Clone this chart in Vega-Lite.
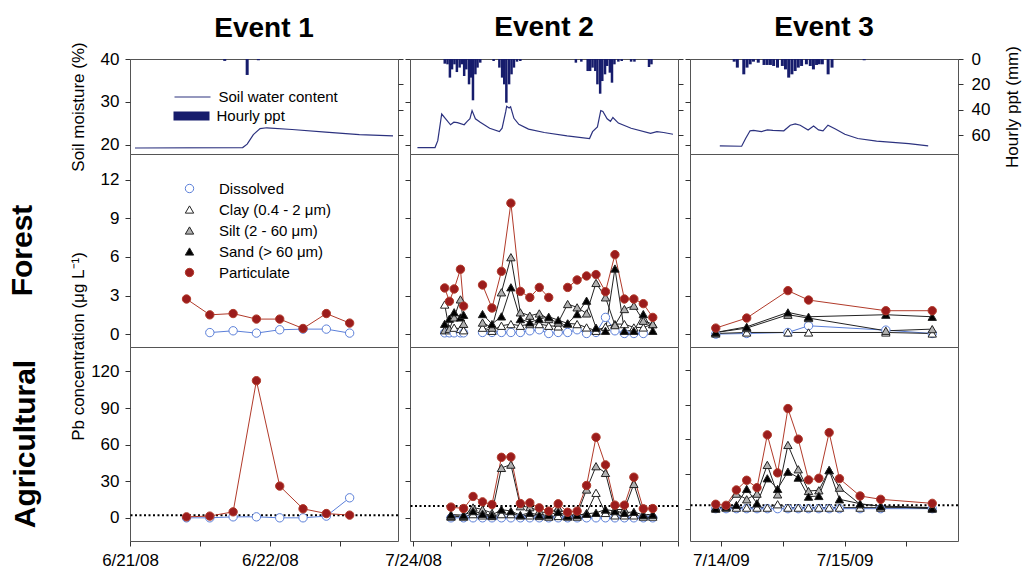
{
"$schema": "https://vega.github.io/schema/vega-lite/v6.json",
"padding": {"left": 7, "top": 13, "right": 2, "bottom": 0},
"background": "white",
"columns": 3,
"spacing": {"row": 0, "column": 12},
"bounds": "flush",
"align": "each",
"resolve": {"scale": {"stroke": "independent", "fill": "independent", "shape": "independent"}, "legend": {"stroke": "independent", "fill": "independent", "shape": "independent"}},
"datasets": {
"thr": [{"ev":1,"thr":2.2},{"ev":2,"thr":9.6},{"ev":3,"thr":3}],
"sm": [
{"ev":1,"t":"2008-06-21T00:00","sm":19.3},{"ev":1,"t":"2008-06-21T19:12","sm":19.4},{"ev":1,"t":"2008-06-21T20:00","sm":20.2},{"ev":1,"t":"2008-06-21T21:06","sm":22.4},{"ev":1,"t":"2008-06-21T22:18","sm":23.8},{"ev":1,"t":"2008-06-21T23:30","sm":24.0},{"ev":1,"t":"2008-06-22T04:00","sm":23.6},{"ev":1,"t":"2008-06-22T10:00","sm":23.0},{"ev":1,"t":"2008-06-22T16:00","sm":22.4},{"ev":1,"t":"2008-06-22T22:00","sm":22.1},
{"ev":2,"t":"2008-07-23T23:48","sm":19.4},{"ev":2,"t":"2008-07-24T05:36","sm":19.4},{"ev":2,"t":"2008-07-24T06:30","sm":21.0},{"ev":2,"t":"2008-07-24T07:48","sm":27.2},{"ev":2,"t":"2008-07-24T10:42","sm":24.7},{"ev":2,"t":"2008-07-24T11:48","sm":25.3},{"ev":2,"t":"2008-07-24T13:00","sm":25.2},{"ev":2,"t":"2008-07-24T15:12","sm":24.7},{"ev":2,"t":"2008-07-24T16:12","sm":25.5},{"ev":2,"t":"2008-07-24T17:06","sm":26.1},{"ev":2,"t":"2008-07-24T17:48","sm":28.0},{"ev":2,"t":"2008-07-24T18:54","sm":26.1},{"ev":2,"t":"2008-07-24T20:30","sm":25.3},{"ev":2,"t":"2008-07-24T23:36","sm":23.9},{"ev":2,"t":"2008-07-25T02:48","sm":23.1},{"ev":2,"t":"2008-07-25T03:42","sm":23.9},{"ev":2,"t":"2008-07-25T04:54","sm":27.8},{"ev":2,"t":"2008-07-25T05:12","sm":29.0},{"ev":2,"t":"2008-07-25T06:00","sm":28.6},{"ev":2,"t":"2008-07-25T06:30","sm":28.9},{"ev":2,"t":"2008-07-25T07:36","sm":26.2},{"ev":2,"t":"2008-07-25T09:12","sm":24.8},{"ev":2,"t":"2008-07-25T12:24","sm":23.7},{"ev":2,"t":"2008-07-25T17:36","sm":22.9},{"ev":2,"t":"2008-07-26T01:06","sm":22.1},{"ev":2,"t":"2008-07-26T08:30","sm":21.5},{"ev":2,"t":"2008-07-26T09:30","sm":23.1},{"ev":2,"t":"2008-07-26T11:06","sm":24.2},{"ev":2,"t":"2008-07-26T12:12","sm":28.0},{"ev":2,"t":"2008-07-26T12:54","sm":27.8},{"ev":2,"t":"2008-07-26T14:18","sm":26.1},{"ev":2,"t":"2008-07-26T15:24","sm":25.5},{"ev":2,"t":"2008-07-26T16:12","sm":26.4},{"ev":2,"t":"2008-07-26T18:00","sm":25.1},{"ev":2,"t":"2008-07-26T22:12","sm":23.9},{"ev":2,"t":"2008-07-27T04:36","sm":22.7},{"ev":2,"t":"2008-07-27T06:42","sm":23.1},{"ev":2,"t":"2008-07-27T08:54","sm":22.9},{"ev":2,"t":"2008-07-27T12:00","sm":22.5},
{"ev":3,"t":"2009-07-13T23:00","sm":19.8},{"ev":3,"t":"2009-07-14T03:24","sm":19.7},{"ev":3,"t":"2009-07-14T04:12","sm":21.5},{"ev":3,"t":"2009-07-14T05:06","sm":23.3},{"ev":3,"t":"2009-07-14T05:48","sm":23.4},{"ev":3,"t":"2009-07-14T07:24","sm":23.1},{"ev":3,"t":"2009-07-14T08:36","sm":23.5},{"ev":3,"t":"2009-07-14T09:42","sm":23.4},{"ev":3,"t":"2009-07-14T11:54","sm":23.3},{"ev":3,"t":"2009-07-14T13:12","sm":24.6},{"ev":3,"t":"2009-07-14T14:12","sm":24.9},{"ev":3,"t":"2009-07-14T15:12","sm":24.6},{"ev":3,"t":"2009-07-14T16:48","sm":23.5},{"ev":3,"t":"2009-07-14T17:54","sm":24.4},{"ev":3,"t":"2009-07-14T18:54","sm":23.5},{"ev":3,"t":"2009-07-14T19:48","sm":23.3},{"ev":3,"t":"2009-07-14T20:48","sm":24.6},{"ev":3,"t":"2009-07-14T22:18","sm":23.7},{"ev":3,"t":"2009-07-15T00:12","sm":22.5},{"ev":3,"t":"2009-07-15T02:48","sm":21.5},{"ev":3,"t":"2009-07-15T06:36","sm":20.9},{"ev":3,"t":"2009-07-15T13:06","sm":20.3},{"ev":3,"t":"2009-07-15T17:00","sm":19.8}
],
"ppt": [
{"ev":1,"t":"2008-06-21T16:00","p":1.5},{"ev":1,"t":"2008-06-21T20:00","p":12.6},{"ev":1,"t":"2008-06-21T22:00","p":1.0},
{"ev":2,"t":"2008-07-24T08:48","p":3.7},{"ev":2,"t":"2008-07-24T09:42","p":4.2},{"ev":2,"t":"2008-07-24T10:30","p":14.7},{"ev":2,"t":"2008-07-24T11:12","p":8.2},{"ev":2,"t":"2008-07-24T12:00","p":4.2},{"ev":2,"t":"2008-07-24T12:48","p":10.3},{"ev":2,"t":"2008-07-24T13:42","p":6.8},{"ev":2,"t":"2008-07-24T14:24","p":4.2},{"ev":2,"t":"2008-07-24T15:12","p":13.4},{"ev":2,"t":"2008-07-24T15:54","p":8.2},{"ev":2,"t":"2008-07-24T16:48","p":20.0},{"ev":2,"t":"2008-07-24T17:30","p":14.7},{"ev":2,"t":"2008-07-24T18:06","p":32.6},{"ev":2,"t":"2008-07-24T18:54","p":12.1},{"ev":2,"t":"2008-07-24T19:36","p":6.8},{"ev":2,"t":"2008-07-24T20:30","p":2.9},
{"ev":2,"t":"2008-07-25T00:54","p":1.6},{"ev":2,"t":"2008-07-25T02:48","p":6.8},{"ev":2,"t":"2008-07-25T03:42","p":14.7},{"ev":2,"t":"2008-07-25T04:24","p":20.0},{"ev":2,"t":"2008-07-25T05:06","p":34.5},{"ev":2,"t":"2008-07-25T06:00","p":20.0},{"ev":2,"t":"2008-07-25T06:48","p":12.1},{"ev":2,"t":"2008-07-25T07:36","p":6.8},{"ev":2,"t":"2008-07-25T08:36","p":2.1},{"ev":2,"t":"2008-07-25T09:42","p":1.6},
{"ev":2,"t":"2008-07-26T04:00","p":2.9},{"ev":2,"t":"2008-07-26T05:48","p":2.1},{"ev":2,"t":"2008-07-26T07:54","p":9.5},{"ev":2,"t":"2008-07-26T08:42","p":9.5},{"ev":2,"t":"2008-07-26T09:30","p":6.8},{"ev":2,"t":"2008-07-26T10:24","p":9.5},{"ev":2,"t":"2008-07-26T11:06","p":20.0},{"ev":2,"t":"2008-07-26T12:00","p":27.4},{"ev":2,"t":"2008-07-26T12:42","p":17.4},{"ev":2,"t":"2008-07-26T13:36","p":12.1},{"ev":2,"t":"2008-07-26T14:18","p":5.5},{"ev":2,"t":"2008-07-26T15:12","p":10.8},{"ev":2,"t":"2008-07-26T15:54","p":18.7},{"ev":2,"t":"2008-07-26T16:42","p":4.2},{"ev":2,"t":"2008-07-26T18:00","p":2.1},{"ev":2,"t":"2008-07-26T19:06","p":1.6},{"ev":2,"t":"2008-07-26T22:12","p":2.1},{"ev":2,"t":"2008-07-26T23:18","p":2.1},{"ev":2,"t":"2008-07-27T04:06","p":6.3},{"ev":2,"t":"2008-07-27T04:54","p":4.2},
{"ev":3,"t":"2009-07-14T01:54","p":2.1},{"ev":3,"t":"2009-07-14T02:32","p":6.8},{"ev":3,"t":"2009-07-14T03:50","p":12.1},{"ev":3,"t":"2009-07-14T04:29","p":6.8},{"ev":3,"t":"2009-07-14T05:07","p":4.2},{"ev":3,"t":"2009-07-14T05:47","p":2.1},{"ev":3,"t":"2009-07-14T06:45","p":2.9},{"ev":3,"t":"2009-07-14T07:55","p":4.7},{"ev":3,"t":"2009-07-14T08:33","p":4.7},{"ev":3,"t":"2009-07-14T09:12","p":4.7},{"ev":3,"t":"2009-07-14T09:51","p":5.5},{"ev":3,"t":"2009-07-14T10:38","p":6.8},{"ev":3,"t":"2009-07-14T11:36","p":5.5},{"ev":3,"t":"2009-07-14T12:14","p":8.2},{"ev":3,"t":"2009-07-14T12:53","p":14.7},{"ev":3,"t":"2009-07-14T13:32","p":12.1},{"ev":3,"t":"2009-07-14T14:11","p":9.5},{"ev":3,"t":"2009-07-14T14:49","p":6.8},{"ev":3,"t":"2009-07-14T15:29","p":5.5},{"ev":3,"t":"2009-07-14T16:27","p":4.2},{"ev":3,"t":"2009-07-14T17:14","p":5.5},{"ev":3,"t":"2009-07-14T17:52","p":8.2},{"ev":3,"t":"2009-07-14T18:30","p":4.7},{"ev":3,"t":"2009-07-14T19:02","p":4.2},{"ev":3,"t":"2009-07-14T19:40","p":4.2},{"ev":3,"t":"2009-07-14T20:50","p":12.1},{"ev":3,"t":"2009-07-14T21:37","p":6.8},{"ev":3,"t":"2009-07-15T04:06","p":1.0}
],
"pb": [
{"ev":1,"site":"F","t":"2008-06-21T09:42","Dissolved":null,"Particulate":2.73},
{"ev":1,"site":"F","t":"2008-06-21T13:42","Dissolved":0.12,"Particulate":1.5},
{"ev":1,"site":"F","t":"2008-06-21T17:42","Dissolved":0.26,"Particulate":1.6},
{"ev":1,"site":"F","t":"2008-06-21T21:42","Dissolved":0.08,"Particulate":1.17},
{"ev":1,"site":"F","t":"2008-06-22T01:42","Dissolved":0.34,"Particulate":1.17},
{"ev":1,"site":"F","t":"2008-06-22T05:42","Dissolved":0.39,"Particulate":0.44},
{"ev":1,"site":"F","t":"2008-06-22T09:42","Dissolved":0.39,"Particulate":1.6},
{"ev":1,"site":"F","t":"2008-06-22T13:42","Dissolved":0.08,"Particulate":0.86},
{"ev":1,"site":"A","t":"2008-06-21T09:42","Dissolved":0,"Particulate":0.8},
{"ev":1,"site":"A","t":"2008-06-21T13:42","Dissolved":0,"Particulate":1.4},
{"ev":1,"site":"A","t":"2008-06-21T17:42","Dissolved":0.8,"Particulate":4.9},
{"ev":1,"site":"A","t":"2008-06-21T21:42","Dissolved":0.8,"Particulate":112.4},
{"ev":1,"site":"A","t":"2008-06-22T01:42","Dissolved":0,"Particulate":26},
{"ev":1,"site":"A","t":"2008-06-22T05:42","Dissolved":0,"Particulate":7.4},
{"ev":1,"site":"A","t":"2008-06-22T09:42","Dissolved":1.4,"Particulate":3.5},
{"ev":1,"site":"A","t":"2008-06-22T13:42","Dissolved":16.4,"Particulate":2.2},
{"ev":2,"site":"F","seg":"a","t":"2008-07-24T10:00","Dissolved":0.1,"Clay":2.3,"Silt":0.3,"Sand":0.8,"Particulate":3.59},
{"ev":2,"site":"F","seg":"a","t":"2008-07-24T11:30","Dissolved":0.1,"Clay":0.3,"Silt":0.4,"Sand":1.2,"Particulate":2.55},
{"ev":2,"site":"F","seg":"a","t":"2008-07-24T13:00","Dissolved":0.1,"Clay":0.5,"Silt":1.3,"Sand":1.7,"Particulate":3.51},
{"ev":2,"site":"F","seg":"a","t":"2008-07-24T15:00","Dissolved":0.1,"Clay":0.4,"Silt":2.7,"Sand":1.3,"Particulate":5.04},
{"ev":2,"site":"F","seg":"a","t":"2008-07-24T16:00","Dissolved":0.1,"Clay":0.3,"Silt":0.8,"Sand":1.5,"Particulate":2.18},
{"ev":2,"site":"F","seg":"b","t":"2008-07-24T22:00","Dissolved":0.13,"Clay":0.5,"Silt":0.9,"Sand":1.56,"Particulate":3.82},
{"ev":2,"site":"F","seg":"b","t":"2008-07-25T01:00","Dissolved":0.13,"Clay":0.26,"Silt":0.5,"Sand":0.78,"Particulate":2.03},
{"ev":2,"site":"F","seg":"b","t":"2008-07-25T04:00","Dissolved":0.13,"Clay":0.65,"Silt":3.25,"Sand":1.38,"Particulate":4.88},
{"ev":2,"site":"F","seg":"b","t":"2008-07-25T07:00","Dissolved":0.13,"Clay":0.78,"Silt":5.98,"Sand":3.64,"Particulate":10.18},
{"ev":2,"site":"F","seg":"b","t":"2008-07-25T10:00","Dissolved":0.13,"Clay":0.65,"Silt":1.69,"Sand":1.17,"Particulate":3.32},
{"ev":2,"site":"F","seg":"b","t":"2008-07-25T13:00","Dissolved":0.26,"Clay":0.78,"Silt":1.43,"Sand":0.91,"Particulate":2.85},
{"ev":2,"site":"F","seg":"b","t":"2008-07-25T16:00","Dissolved":0.34,"Clay":0.78,"Silt":1.61,"Sand":1.17,"Particulate":3.63},
{"ev":2,"site":"F","seg":"b","t":"2008-07-25T19:00","Dissolved":0.05,"Clay":0.65,"Silt":1.17,"Sand":1.35,"Particulate":2.85},
{"ev":2,"site":"F","seg":"b","t":"2008-07-25T22:00","Dissolved":0.13,"Clay":0.6,"Silt":0.9,"Sand":1.09,"Particulate":null},
{"ev":2,"site":"F","seg":"b","t":"2008-07-26T01:00","Dissolved":0.13,"Clay":0.83,"Silt":2.34,"Sand":0.83,"Particulate":3.63},
{"ev":2,"site":"F","seg":"b","t":"2008-07-26T04:00","Dissolved":0.34,"Clay":0.78,"Silt":2.08,"Sand":1.56,"Particulate":4.21},
{"ev":2,"site":"F","seg":"b","t":"2008-07-26T07:00","Dissolved":0.05,"Clay":0.52,"Silt":1.61,"Sand":2.6,"Particulate":4.52},
{"ev":2,"site":"F","seg":"b","t":"2008-07-26T10:00","Dissolved":0.13,"Clay":0.26,"Silt":3.98,"Sand":0.5,"Particulate":4.63},
{"ev":2,"site":"F","seg":"b","t":"2008-07-26T13:00","Dissolved":1.3,"Clay":0.57,"Silt":2.86,"Sand":0.26,"Particulate":3.3},
{"ev":2,"site":"F","seg":"b","t":"2008-07-26T16:00","Dissolved":0.26,"Clay":0.78,"Silt":0.7,"Sand":5.1,"Particulate":6.18},
{"ev":2,"site":"F","seg":"b","t":"2008-07-26T19:00","Dissolved":0.05,"Clay":0.78,"Silt":1.95,"Sand":0.26,"Particulate":2.73},
{"ev":2,"site":"F","seg":"b","t":"2008-07-26T22:00","Dissolved":0.05,"Clay":0.52,"Silt":2.21,"Sand":0.26,"Particulate":2.73},
{"ev":2,"site":"F","seg":"b","t":"2008-07-27T01:00","Dissolved":0.05,"Clay":0.52,"Silt":1.04,"Sand":1.56,"Particulate":2.37},
{"ev":2,"site":"F","seg":"b","t":"2008-07-27T04:00","Dissolved":null,"Clay":0.78,"Silt":0.78,"Sand":0.26,"Particulate":1.3},
{"ev":2,"site":"A","t":"2008-07-24T12:00","Dissolved":0,"Clay":1,"Silt":1.5,"Sand":2.7,"Particulate":8.8},
{"ev":2,"site":"A","t":"2008-07-24T16:00","Dissolved":0,"Clay":1,"Silt":1.5,"Sand":2.2,"Particulate":7.6},
{"ev":2,"site":"A","t":"2008-07-24T19:00","Dissolved":0,"Clay":3,"Silt":8.5,"Sand":5.5,"Particulate":17.5},
{"ev":2,"site":"A","t":"2008-07-24T22:00","Dissolved":0,"Clay":2,"Silt":6.8,"Sand":3.3,"Particulate":13.1},
{"ev":2,"site":"A","t":"2008-07-25T01:00","Dissolved":0,"Clay":1.5,"Silt":4,"Sand":2.2,"Particulate":10.9},
{"ev":2,"site":"A","t":"2008-07-25T04:00","Dissolved":0,"Clay":3,"Silt":40.9,"Sand":6.8,"Particulate":49.6},
{"ev":2,"site":"A","t":"2008-07-25T07:00","Dissolved":0,"Clay":3,"Silt":43.6,"Sand":5.5,"Particulate":49.9},
{"ev":2,"site":"A","t":"2008-07-25T10:00","Dissolved":0,"Clay":2,"Silt":9.5,"Sand":2.2,"Particulate":11.7},
{"ev":2,"site":"A","t":"2008-07-25T13:00","Dissolved":0,"Clay":2,"Silt":8.7,"Sand":4.1,"Particulate":12.3},
{"ev":2,"site":"A","t":"2008-07-25T16:00","Dissolved":0,"Clay":1.5,"Silt":5.5,"Sand":2.2,"Particulate":8.2},
{"ev":2,"site":"A","t":"2008-07-25T19:00","Dissolved":0,"Clay":1,"Silt":3.3,"Sand":2.2,"Particulate":5.5},
{"ev":2,"site":"A","t":"2008-07-25T22:00","Dissolved":0,"Clay":1.5,"Silt":8.2,"Sand":4.9,"Particulate":11.5},
{"ev":2,"site":"A","t":"2008-07-26T01:00","Dissolved":0,"Clay":1,"Silt":2.2,"Sand":1.6,"Particulate":4.6},
{"ev":2,"site":"A","t":"2008-07-26T04:00","Dissolved":0,"Clay":1,"Silt":2.7,"Sand":2.2,"Particulate":5.5},
{"ev":2,"site":"A","t":"2008-07-26T07:00","Dissolved":0,"Clay":4,"Silt":23.2,"Sand":3.3,"Particulate":26.5},
{"ev":2,"site":"A","t":"2008-07-26T10:00","Dissolved":0,"Clay":20.5,"Silt":42.3,"Sand":4.1,"Particulate":66.0},
{"ev":2,"site":"A","t":"2008-07-26T13:00","Dissolved":0,"Clay":4,"Silt":36.8,"Sand":6.8,"Particulate":43.4},
{"ev":2,"site":"A","t":"2008-07-26T16:00","Dissolved":0,"Clay":2,"Silt":6.8,"Sand":5.5,"Particulate":10.4},
{"ev":2,"site":"A","t":"2008-07-26T19:00","Dissolved":0,"Clay":2,"Silt":6.8,"Sand":4.1,"Particulate":10.4},
{"ev":2,"site":"A","t":"2008-07-26T22:00","Dissolved":0,"Clay":2,"Silt":27.8,"Sand":4.9,"Particulate":33.3},
{"ev":2,"site":"A","t":"2008-07-27T01:00","Dissolved":0,"Clay":1,"Silt":2.7,"Sand":2.2,"Particulate":7.4},
{"ev":2,"site":"A","t":"2008-07-27T04:00","Dissolved":0,"Clay":1,"Silt":2.7,"Sand":2.7,"Particulate":7.6},
{"ev":3,"site":"F","t":"2009-07-13T23:00","Dissolved":0,"Clay":0.05,"Silt":0.13,"Sand":0.13,"Particulate":0.47},
{"ev":3,"site":"F","t":"2009-07-14T05:00","Dissolved":0.05,"Clay":0.13,"Silt":0.47,"Sand":0.57,"Particulate":1.25},
{"ev":3,"site":"F","t":"2009-07-14T13:00","Dissolved":0.13,"Clay":0.13,"Silt":1.51,"Sand":1.69,"Particulate":3.38},
{"ev":3,"site":"F","t":"2009-07-14T17:00","Dissolved":0.65,"Clay":0.13,"Silt":1.25,"Sand":1.35,"Particulate":2.65},
{"ev":3,"site":"F","t":"2009-07-15T08:00","Dissolved":0.31,"Clay":0.13,"Silt":0.26,"Sand":1.51,"Particulate":1.82},
{"ev":3,"site":"F","t":"2009-07-15T17:00","Dissolved":0.05,"Clay":0.05,"Silt":0.39,"Sand":1.35,"Particulate":1.82},
{"ev":3,"site":"A","t":"2009-07-13T23:00","Dissolved":0,"Clay":0.9,"Silt":0.9,"Sand":0,"Particulate":3.8},
{"ev":3,"site":"A","t":"2009-07-14T01:00","Dissolved":0,"Clay":0.9,"Silt":1.7,"Sand":1.7,"Particulate":2.9},
{"ev":3,"site":"A","t":"2009-07-14T03:00","Dissolved":0,"Clay":0.9,"Silt":13.0,"Sand":3.2,"Particulate":16.2},
{"ev":3,"site":"A","t":"2009-07-14T05:00","Dissolved":0,"Clay":0.9,"Silt":8.1,"Sand":17.1,"Particulate":24.6},
{"ev":3,"site":"A","t":"2009-07-14T07:00","Dissolved":0,"Clay":0.9,"Silt":13.0,"Sand":4.6,"Particulate":18.2},
{"ev":3,"site":"A","t":"2009-07-14T09:00","Dissolved":0,"Clay":0.9,"Silt":37.9,"Sand":26.3,"Particulate":63.9},
{"ev":3,"site":"A","t":"2009-07-14T11:00","Dissolved":0,"Clay":3.8,"Silt":12.4,"Sand":17.1,"Particulate":31.0},
{"ev":3,"site":"A","t":"2009-07-14T13:00","Dissolved":0,"Clay":0.9,"Silt":55.2,"Sand":32.0,"Particulate":86.7},
{"ev":3,"site":"A","t":"2009-07-14T15:00","Dissolved":0,"Clay":0.9,"Silt":34.1,"Sand":26.9,"Particulate":60.2},
{"ev":3,"site":"A","t":"2009-07-14T17:00","Dissolved":0,"Clay":0.9,"Silt":15.3,"Sand":10.4,"Particulate":24.9},
{"ev":3,"site":"A","t":"2009-07-14T19:00","Dissolved":0,"Clay":0.9,"Silt":15.9,"Sand":11.0,"Particulate":26.3},
{"ev":3,"site":"A","t":"2009-07-14T21:00","Dissolved":0,"Clay":0.9,"Silt":33.4,"Sand":33.4,"Particulate":65.9},
{"ev":3,"site":"A","t":"2009-07-14T23:00","Dissolved":0,"Clay":0.9,"Silt":18.2,"Sand":8.1,"Particulate":26.0},
{"ev":3,"site":"A","t":"2009-07-15T03:00","Dissolved":0,"Clay":0.9,"Silt":3.8,"Sand":4.3,"Particulate":11.0},
{"ev":3,"site":"A","t":"2009-07-15T07:00","Dissolved":0,"Clay":0.9,"Silt":2.3,"Sand":2.0,"Particulate":8.1},
{"ev":3,"site":"A","t":"2009-07-15T17:00","Dissolved":0,"Clay":0.9,"Silt":0.9,"Sand":0,"Particulate":4.6}
]
},
"concat": [
{
"width": 268, "height": 95,
"title": {"text": "Event 1", "fontSize": 28, "fontWeight": "bold", "anchor": "middle", "frame": "group", "offset": -1},
"layer": [
{"data": {"name": "ppt"}, "transform": [{"filter": "datum.ev == 1"}], "mark": {"type": "bar", "size": 3},
"encoding": {
"x": {"field": "t", "type": "temporal", "scale": {"domain": [{"year":2008,"month":6,"date":21,"hours":0},{"year":2008,"month":6,"date":22,"hours":22}], "nice": false}, "axis": null},
"y": {"field": "p", "type": "quantitative", "scale": {"domain": [0, 75], "reverse": true, "nice": false}, "axis": {"orient": "right", "values": [0,20,40,60], "labels": false, "title": null}},
"fill": {"datum": "Hourly ppt", "type": "nominal", "scale": {"range": ["#161c6c"]}, "legend": {"orient": "none", "legendX": 43.5, "legendY": 48, "title": null, "padding": 0, "symbolSize": 324, "labelOffset": 25, "labelFontSize": 15, "encode": {"symbols": {"update": {"shape": {"value": "M-1,-0.5H3V0.5H-1Z"}, "strokeWidth": {"value": 0}, "opacity": {"value": 1}}}}}}
}},
{"data": {"name": "sm"}, "transform": [{"filter": "datum.ev == 1"}], "mark": {"type": "line", "strokeWidth": 1.2},
"encoding": {
"x": {"field": "t", "type": "temporal", "scale": {"domain": [{"year":2008,"month":6,"date":21,"hours":0},{"year":2008,"month":6,"date":22,"hours":22}], "nice": false}, "axis": null},
"y": {"field": "sm", "type": "quantitative", "scale": {"domain": [17.9, 40], "nice": false, "zero": false}, "axis": {"orient": "left", "values": [20,30,40], "title": "Soil moisture (%)", "titleX": -42.5}},
"stroke": {"datum": "Soil water content", "type": "nominal", "scale": {"range": ["#2c327f"]}, "legend": {"orient": "none", "legendX": 43.5, "legendY": 28, "title": null, "padding": 0, "symbolSize": 324, "labelOffset": 25, "labelFontSize": 15, "encode": {"symbols": {"update": {"shape": {"value": "M-1,0H3"}, "strokeWidth": {"value": 1.2}, "opacity": {"value": 1}}}}}}
}}
],
"resolve": {"scale": {"y": "independent"}}
},
{
"width": 268, "height": 95,
"title": {"text": "Event 2", "fontSize": 28, "fontWeight": "bold", "anchor": "middle", "frame": "group", "offset": 17},
"layer": [
{"data": {"name": "ppt"}, "transform": [{"filter": "datum.ev == 2"}], "mark": {"type": "bar", "size": 2.5},
"encoding": {
"x": {"field": "t", "type": "temporal", "scale": {"domain": [{"year":2008,"month":7,"date":23,"hours":23},{"year":2008,"month":7,"date":27,"hours":12}], "nice": false}, "axis": null},
"y": {"field": "p", "type": "quantitative", "scale": {"domain": [0, 75], "reverse": true, "nice": false}, "axis": {"orient": "right", "values": [0,20,40,60], "labels": false, "title": null}},
"fill": {"datum": "Hourly ppt", "type": "nominal", "scale": {"range": ["#161c6c"]}, "legend": null}
}},
{"data": {"name": "sm"}, "transform": [{"filter": "datum.ev == 2"}], "mark": {"type": "line", "strokeWidth": 1.2},
"encoding": {
"x": {"field": "t", "type": "temporal", "scale": {"domain": [{"year":2008,"month":7,"date":23,"hours":23},{"year":2008,"month":7,"date":27,"hours":12}], "nice": false}, "axis": null},
"y": {"field": "sm", "type": "quantitative", "scale": {"domain": [17.9, 40], "nice": false, "zero": false}, "axis": {"orient": "left", "values": [20,30,40], "labels": false, "title": null}},
"stroke": {"datum": "Soil water content", "type": "nominal", "scale": {"range": ["#2c327f"]}, "legend": null}
}}
],
"resolve": {"scale": {"y": "independent"}}
},
{
"width": 268, "height": 95,
"title": {"text": "Event 3", "fontSize": 28, "fontWeight": "bold", "anchor": "middle", "frame": "group", "offset": 3.5},
"layer": [
{"data": {"name": "ppt"}, "transform": [{"filter": "datum.ev == 3"}], "mark": {"type": "bar", "size": 3},
"encoding": {
"x": {"field": "t", "type": "temporal", "scale": {"domain": [{"year":2009,"month":7,"date":13,"hours":18},{"year":2009,"month":7,"date":15,"hours":22}], "nice": false}, "axis": null},
"y": {"field": "p", "type": "quantitative", "scale": {"domain": [0, 75], "reverse": true, "nice": false}, "axis": {"orient": "right", "values": [0,20,40,60], "title": "Hourly ppt (mm)", "titleAngle": 270, "titleX": 54.5, "titleBaseline": "middle", "labelPadding": 8}},
"fill": {"datum": "Hourly ppt", "type": "nominal", "scale": {"range": ["#161c6c"]}, "legend": null}
}},
{"data": {"name": "sm"}, "transform": [{"filter": "datum.ev == 3"}], "mark": {"type": "line", "strokeWidth": 1.2},
"encoding": {
"x": {"field": "t", "type": "temporal", "scale": {"domain": [{"year":2009,"month":7,"date":13,"hours":18},{"year":2009,"month":7,"date":15,"hours":22}], "nice": false}, "axis": null},
"y": {"field": "sm", "type": "quantitative", "scale": {"domain": [17.9, 40], "nice": false, "zero": false}, "axis": {"orient": "left", "values": [20,30,40], "labels": false, "title": null}},
"stroke": {"datum": "Soil water content", "type": "nominal", "scale": {"range": ["#2c327f"]}, "legend": null}
}}
],
"resolve": {"scale": {"y": "independent"}}
},
{
"width": 268, "height": 193,
"title": {"text": "Forest", "orient": "left", "fontSize": 30, "fontWeight": "bold", "anchor": "middle", "frame": "group", "offset": 31.5},
"layer": [
{"data": {"name": "pb"}, "transform": [{"filter": "datum.ev == 1 && datum.site == 'F'"}, {"fold": ["Dissolved","Clay","Silt","Sand","Particulate"], "as": ["key","value"]}],
"mark": {"type": "line", "strokeWidth": 1, "invalid": "break-paths-filter-domains"},
"encoding": {
"x": {"field": "t", "type": "temporal", "scale": {"domain": [{"year":2008,"month":6,"date":21,"hours":0},{"year":2008,"month":6,"date":22,"hours":22}], "nice": false}, "axis": null},
"y": {"field": "value", "type": "quantitative", "scale": {"domain": [-1, 14], "nice": false, "zero": false}, "axis": {"values": [0,3,6,9,12], "title": "Pb concentration (μg L⁻¹)", "titleX": -42.5, "titleY": 192}},
"stroke": {"field": "key", "type": "nominal", "scale": {"domain": ["Dissolved","Clay","Silt","Sand","Particulate"], "range": ["#5b7fd9","#222222","#222222","#222222","#b13a2a"]},
 "legend": {"orient": "none", "legendX": 52, "legendY": 27, "title": null, "padding": 0, "symbolSize": 70, "symbolStrokeWidth": 1, "labelOffset": 22, "rowPadding": 5, "labelFontSize": 15,
 "labelExpr": "{'Dissolved':'Dissolved','Clay':'Clay (0.4 - 2 μm)','Silt':'Silt (2 - 60 μm)','Sand':'Sand (> 60 μm)','Particulate':'Particulate'}[datum.label]"}}
}},
{"data": {"name": "pb"}, "transform": [{"filter": "datum.ev == 1 && datum.site == 'F'"}, {"fold": ["Dissolved","Clay","Silt","Sand","Particulate"], "as": ["key","value"]}, {"filter": "isValid(datum.value)"}],
"mark": {"type": "point", "opacity": 1, "size": 70, "strokeWidth": 1},
"encoding": {
"x": {"field": "t", "type": "temporal", "scale": {"domain": [{"year":2008,"month":6,"date":21,"hours":0},{"year":2008,"month":6,"date":22,"hours":22}], "nice": false}, "axis": null},
"y": {"field": "value", "type": "quantitative", "scale": {"domain": [-1, 14], "nice": false, "zero": false}, "axis": {"values": [0,3,6,9,12], "title": "Pb concentration (μg L⁻¹)", "titleX": -42.5, "titleY": 192}},
"stroke": {"field": "key", "type": "nominal", "scale": {"domain": ["Dissolved","Clay","Silt","Sand","Particulate"], "range": ["#5b7fd9","#222222","#222222","#222222","#b13a2a"]}, "legend": null},
"fill": {"field": "key", "type": "nominal", "scale": {"domain": ["Dissolved","Clay","Silt","Sand","Particulate"], "range": ["#ffffff","#ffffff","#b0b0b0","#000000","#9b1c1c"]}, "legend": null},
"shape": {"field": "key", "type": "nominal", "scale": {"domain": ["Dissolved","Clay","Silt","Sand","Particulate"], "range": ["circle","triangle-up","triangle-up","triangle-up","circle"]}, "legend": null}
}}
]
},
{
"width": 268, "height": 193,
"layer": [
{"data": {"name": "pb"}, "transform": [{"filter": "datum.ev == 2 && datum.site == 'F'"}, {"fold": ["Dissolved","Clay","Silt","Sand","Particulate"], "as": ["key","value"]}],
"mark": {"type": "line", "strokeWidth": 1, "invalid": "break-paths-filter-domains"},
"encoding": {
"x": {"field": "t", "type": "temporal", "scale": {"domain": [{"year":2008,"month":7,"date":23,"hours":23},{"year":2008,"month":7,"date":27,"hours":12}], "nice": false}, "axis": null},
"y": {"field": "value", "type": "quantitative", "scale": {"domain": [-1, 14], "nice": false, "zero": false}, "axis": {"values": [0,3,6,9,12], "labels": false, "title": null}},
"detail": {"field": "seg", "type": "nominal"},
"stroke": {"field": "key", "type": "nominal", "scale": {"domain": ["Dissolved","Clay","Silt","Sand","Particulate"], "range": ["#5b7fd9","#222222","#222222","#222222","#b13a2a"]}, "legend": null}
}},
{"data": {"name": "pb"}, "transform": [{"filter": "datum.ev == 2 && datum.site == 'F'"}, {"fold": ["Dissolved","Clay","Silt","Sand","Particulate"], "as": ["key","value"]}, {"filter": "isValid(datum.value)"}],
"mark": {"type": "point", "opacity": 1, "size": 70, "strokeWidth": 1},
"encoding": {
"x": {"field": "t", "type": "temporal", "scale": {"domain": [{"year":2008,"month":7,"date":23,"hours":23},{"year":2008,"month":7,"date":27,"hours":12}], "nice": false}, "axis": null},
"y": {"field": "value", "type": "quantitative", "scale": {"domain": [-1, 14], "nice": false, "zero": false}, "axis": {"values": [0,3,6,9,12], "labels": false, "title": null}},
"stroke": {"field": "key", "type": "nominal", "scale": {"domain": ["Dissolved","Clay","Silt","Sand","Particulate"], "range": ["#5b7fd9","#222222","#222222","#222222","#b13a2a"]}, "legend": null},
"fill": {"field": "key", "type": "nominal", "scale": {"domain": ["Dissolved","Clay","Silt","Sand","Particulate"], "range": ["#ffffff","#ffffff","#b0b0b0","#000000","#9b1c1c"]}, "legend": null},
"shape": {"field": "key", "type": "nominal", "scale": {"domain": ["Dissolved","Clay","Silt","Sand","Particulate"], "range": ["circle","triangle-up","triangle-up","triangle-up","circle"]}, "legend": null}
}}
]
},
{
"width": 268, "height": 193,
"layer": [
{"data": {"name": "pb"}, "transform": [{"filter": "datum.ev == 3 && datum.site == 'F'"}, {"fold": ["Dissolved","Clay","Silt","Sand","Particulate"], "as": ["key","value"]}],
"mark": {"type": "line", "strokeWidth": 1, "invalid": "break-paths-filter-domains"},
"encoding": {
"x": {"field": "t", "type": "temporal", "scale": {"domain": [{"year":2009,"month":7,"date":13,"hours":18},{"year":2009,"month":7,"date":15,"hours":22}], "nice": false}, "axis": null},
"y": {"field": "value", "type": "quantitative", "scale": {"domain": [-1, 14], "nice": false, "zero": false}, "axis": {"values": [0,3,6,9,12], "labels": false, "title": null}},
"stroke": {"field": "key", "type": "nominal", "scale": {"domain": ["Dissolved","Clay","Silt","Sand","Particulate"], "range": ["#5b7fd9","#222222","#222222","#222222","#b13a2a"]}, "legend": null}
}},
{"data": {"name": "pb"}, "transform": [{"filter": "datum.ev == 3 && datum.site == 'F'"}, {"fold": ["Dissolved","Clay","Silt","Sand","Particulate"], "as": ["key","value"]}, {"filter": "isValid(datum.value)"}],
"mark": {"type": "point", "opacity": 1, "size": 70, "strokeWidth": 1},
"encoding": {
"x": {"field": "t", "type": "temporal", "scale": {"domain": [{"year":2009,"month":7,"date":13,"hours":18},{"year":2009,"month":7,"date":15,"hours":22}], "nice": false}, "axis": null},
"y": {"field": "value", "type": "quantitative", "scale": {"domain": [-1, 14], "nice": false, "zero": false}, "axis": {"values": [0,3,6,9,12], "labels": false, "title": null}},
"stroke": {"field": "key", "type": "nominal", "scale": {"domain": ["Dissolved","Clay","Silt","Sand","Particulate"], "range": ["#5b7fd9","#222222","#222222","#222222","#b13a2a"]}, "legend": null},
"fill": {"field": "key", "type": "nominal", "scale": {"domain": ["Dissolved","Clay","Silt","Sand","Particulate"], "range": ["#ffffff","#ffffff","#b0b0b0","#000000","#9b1c1c"]}, "legend": null},
"shape": {"field": "key", "type": "nominal", "scale": {"domain": ["Dissolved","Clay","Silt","Sand","Particulate"], "range": ["circle","triangle-up","triangle-up","triangle-up","circle"]}, "legend": null}
}}
]
},
{
"width": 268, "height": 194,
"title": {"text": "Agricultural", "orient": "left", "fontSize": 30, "fontWeight": "bold", "anchor": "middle", "frame": "group", "offset": 49.5},
"layer": [
{"data": {"name": "thr"}, "transform": [{"filter": "datum.ev == 1"}], "mark": {"type": "rule", "strokeDash": [2, 2.5], "strokeWidth": 2, "color": "black"},
"encoding": {"y": {"field": "thr", "type": "quantitative", "scale": {"domain": [-19, 140], "nice": false, "zero": false}, "axis": {"values": [0,30,60,90,120], "title": null}}}},
{"data": {"name": "pb"}, "transform": [{"filter": "datum.ev == 1 && datum.site == 'A'"}, {"fold": ["Dissolved","Clay","Silt","Sand","Particulate"], "as": ["key","value"]}],
"mark": {"type": "line", "strokeWidth": 1, "invalid": "break-paths-filter-domains"},
"encoding": {
"x": {"field": "t", "type": "temporal", "scale": {"domain": [{"year":2008,"month":6,"date":21,"hours":0},{"year":2008,"month":6,"date":22,"hours":22}], "nice": false}, "axis": {"values": [{"year":2008,"month":6,"date":21,"hours":0},{"year":2008,"month":6,"date":21,"hours":12},{"year":2008,"month":6,"date":22,"hours":0},{"year":2008,"month":6,"date":22,"hours":12}], "labelExpr": "hours(datum.value) == 0 ? timeFormat(datum.value, '%-m/%-d/%y') : ''", "title": null, "labelFlush": false, "labelOverlap": false, "labelPadding": 6}},
"y": {"field": "value", "type": "quantitative", "scale": {"domain": [-19, 140], "nice": false, "zero": false}, "axis": {"values": [0,30,60,90,120], "title": null}},
"stroke": {"field": "key", "type": "nominal", "scale": {"domain": ["Dissolved","Clay","Silt","Sand","Particulate"], "range": ["#5b7fd9","#222222","#222222","#222222","#b13a2a"]}, "legend": null}
}},
{"data": {"name": "pb"}, "transform": [{"filter": "datum.ev == 1 && datum.site == 'A'"}, {"fold": ["Dissolved","Clay","Silt","Sand","Particulate"], "as": ["key","value"]}, {"filter": "isValid(datum.value)"}],
"mark": {"type": "point", "opacity": 1, "size": 70, "strokeWidth": 1},
"encoding": {
"x": {"field": "t", "type": "temporal", "scale": {"domain": [{"year":2008,"month":6,"date":21,"hours":0},{"year":2008,"month":6,"date":22,"hours":22}], "nice": false}, "axis": {"values": [{"year":2008,"month":6,"date":21,"hours":0},{"year":2008,"month":6,"date":21,"hours":12},{"year":2008,"month":6,"date":22,"hours":0},{"year":2008,"month":6,"date":22,"hours":12}], "labelExpr": "hours(datum.value) == 0 ? timeFormat(datum.value, '%-m/%-d/%y') : ''", "title": null, "labelFlush": false, "labelOverlap": false, "labelPadding": 6}},
"y": {"field": "value", "type": "quantitative", "scale": {"domain": [-19, 140], "nice": false, "zero": false}, "axis": {"values": [0,30,60,90,120], "title": null}},
"stroke": {"field": "key", "type": "nominal", "scale": {"domain": ["Dissolved","Clay","Silt","Sand","Particulate"], "range": ["#5b7fd9","#222222","#222222","#222222","#b13a2a"]}, "legend": null},
"fill": {"field": "key", "type": "nominal", "scale": {"domain": ["Dissolved","Clay","Silt","Sand","Particulate"], "range": ["#ffffff","#ffffff","#b0b0b0","#000000","#9b1c1c"]}, "legend": null},
"shape": {"field": "key", "type": "nominal", "scale": {"domain": ["Dissolved","Clay","Silt","Sand","Particulate"], "range": ["circle","triangle-up","triangle-up","triangle-up","circle"]}, "legend": null}
}}
]
},
{
"width": 268, "height": 194,
"layer": [
{"data": {"name": "thr"}, "transform": [{"filter": "datum.ev == 2"}], "mark": {"type": "rule", "strokeDash": [2, 2.5], "strokeWidth": 2, "color": "black"},
"encoding": {"y": {"field": "thr", "type": "quantitative", "scale": {"domain": [-19, 140], "nice": false, "zero": false}, "axis": {"values": [0,30,60,90,120], "labels": false, "title": null}}}},
{"data": {"name": "pb"}, "transform": [{"filter": "datum.ev == 2 && datum.site == 'A'"}, {"fold": ["Dissolved","Clay","Silt","Sand","Particulate"], "as": ["key","value"]}],
"mark": {"type": "line", "strokeWidth": 1, "invalid": "break-paths-filter-domains"},
"encoding": {
"x": {"field": "t", "type": "temporal", "scale": {"domain": [{"year":2008,"month":7,"date":23,"hours":23},{"year":2008,"month":7,"date":27,"hours":12}], "nice": false}, "axis": {"values": [{"year":2008,"month":7,"date":24,"hours":0},{"year":2008,"month":7,"date":24,"hours":12},{"year":2008,"month":7,"date":25,"hours":0},{"year":2008,"month":7,"date":25,"hours":12},{"year":2008,"month":7,"date":26,"hours":0},{"year":2008,"month":7,"date":26,"hours":12},{"year":2008,"month":7,"date":27,"hours":0},{"year":2008,"month":7,"date":27,"hours":12}], "labelExpr": "hours(datum.value) == 0 && date(datum.value) % 2 == 0 ? timeFormat(datum.value, '%-m/%-d/%y') : ''", "title": null, "labelFlush": false, "labelOverlap": false, "labelPadding": 6}},
"y": {"field": "value", "type": "quantitative", "scale": {"domain": [-19, 140], "nice": false, "zero": false}, "axis": {"values": [0,30,60,90,120], "labels": false, "title": null}},
"stroke": {"field": "key", "type": "nominal", "scale": {"domain": ["Dissolved","Clay","Silt","Sand","Particulate"], "range": ["#5b7fd9","#222222","#222222","#222222","#b13a2a"]}, "legend": null}
}},
{"data": {"name": "pb"}, "transform": [{"filter": "datum.ev == 2 && datum.site == 'A'"}, {"fold": ["Dissolved","Clay","Silt","Sand","Particulate"], "as": ["key","value"]}, {"filter": "isValid(datum.value)"}],
"mark": {"type": "point", "opacity": 1, "size": 70, "strokeWidth": 1},
"encoding": {
"x": {"field": "t", "type": "temporal", "scale": {"domain": [{"year":2008,"month":7,"date":23,"hours":23},{"year":2008,"month":7,"date":27,"hours":12}], "nice": false}, "axis": {"values": [{"year":2008,"month":7,"date":24,"hours":0},{"year":2008,"month":7,"date":24,"hours":12},{"year":2008,"month":7,"date":25,"hours":0},{"year":2008,"month":7,"date":25,"hours":12},{"year":2008,"month":7,"date":26,"hours":0},{"year":2008,"month":7,"date":26,"hours":12},{"year":2008,"month":7,"date":27,"hours":0},{"year":2008,"month":7,"date":27,"hours":12}], "labelExpr": "hours(datum.value) == 0 && date(datum.value) % 2 == 0 ? timeFormat(datum.value, '%-m/%-d/%y') : ''", "title": null, "labelFlush": false, "labelOverlap": false, "labelPadding": 6}},
"y": {"field": "value", "type": "quantitative", "scale": {"domain": [-19, 140], "nice": false, "zero": false}, "axis": {"values": [0,30,60,90,120], "labels": false, "title": null}},
"stroke": {"field": "key", "type": "nominal", "scale": {"domain": ["Dissolved","Clay","Silt","Sand","Particulate"], "range": ["#5b7fd9","#222222","#222222","#222222","#b13a2a"]}, "legend": null},
"fill": {"field": "key", "type": "nominal", "scale": {"domain": ["Dissolved","Clay","Silt","Sand","Particulate"], "range": ["#ffffff","#ffffff","#b0b0b0","#000000","#9b1c1c"]}, "legend": null},
"shape": {"field": "key", "type": "nominal", "scale": {"domain": ["Dissolved","Clay","Silt","Sand","Particulate"], "range": ["circle","triangle-up","triangle-up","triangle-up","circle"]}, "legend": null}
}}
]
},
{
"width": 268, "height": 194,
"layer": [
{"data": {"name": "thr"}, "transform": [{"filter": "datum.ev == 3"}], "mark": {"type": "rule", "strokeDash": [2, 2.5], "strokeWidth": 2, "color": "black"},
"encoding": {"y": {"field": "thr", "type": "quantitative", "scale": {"domain": [-28, 140], "nice": false, "zero": false}, "axis": {"values": [0,30,60,90,120], "labels": false, "title": null}}}},
{"data": {"name": "pb"}, "transform": [{"filter": "datum.ev == 3 && datum.site == 'A'"}, {"fold": ["Dissolved","Clay","Silt","Sand","Particulate"], "as": ["key","value"]}],
"mark": {"type": "line", "strokeWidth": 1, "invalid": "break-paths-filter-domains"},
"encoding": {
"x": {"field": "t", "type": "temporal", "scale": {"domain": [{"year":2009,"month":7,"date":13,"hours":18},{"year":2009,"month":7,"date":15,"hours":22}], "nice": false}, "axis": {"values": [{"year":2009,"month":7,"date":14,"hours":0},{"year":2009,"month":7,"date":14,"hours":12},{"year":2009,"month":7,"date":15,"hours":0},{"year":2009,"month":7,"date":15,"hours":12}], "labelExpr": "hours(datum.value) == 0 ? timeFormat(datum.value, '%-m/%-d/%y') : ''", "title": null, "labelFlush": false, "labelOverlap": false, "labelPadding": 6}},
"y": {"field": "value", "type": "quantitative", "scale": {"domain": [-28, 140], "nice": false, "zero": false}, "axis": {"values": [0,30,60,90,120], "labels": false, "title": null}},
"stroke": {"field": "key", "type": "nominal", "scale": {"domain": ["Dissolved","Clay","Silt","Sand","Particulate"], "range": ["#5b7fd9","#222222","#222222","#222222","#b13a2a"]}, "legend": null}
}},
{"data": {"name": "pb"}, "transform": [{"filter": "datum.ev == 3 && datum.site == 'A'"}, {"fold": ["Dissolved","Clay","Silt","Sand","Particulate"], "as": ["key","value"]}, {"filter": "isValid(datum.value)"}],
"mark": {"type": "point", "opacity": 1, "size": 70, "strokeWidth": 1},
"encoding": {
"x": {"field": "t", "type": "temporal", "scale": {"domain": [{"year":2009,"month":7,"date":13,"hours":18},{"year":2009,"month":7,"date":15,"hours":22}], "nice": false}, "axis": {"values": [{"year":2009,"month":7,"date":14,"hours":0},{"year":2009,"month":7,"date":14,"hours":12},{"year":2009,"month":7,"date":15,"hours":0},{"year":2009,"month":7,"date":15,"hours":12}], "labelExpr": "hours(datum.value) == 0 ? timeFormat(datum.value, '%-m/%-d/%y') : ''", "title": null, "labelFlush": false, "labelOverlap": false, "labelPadding": 6}},
"y": {"field": "value", "type": "quantitative", "scale": {"domain": [-28, 140], "nice": false, "zero": false}, "axis": {"values": [0,30,60,90,120], "labels": false, "title": null}},
"stroke": {"field": "key", "type": "nominal", "scale": {"domain": ["Dissolved","Clay","Silt","Sand","Particulate"], "range": ["#5b7fd9","#222222","#222222","#222222","#b13a2a"]}, "legend": null},
"fill": {"field": "key", "type": "nominal", "scale": {"domain": ["Dissolved","Clay","Silt","Sand","Particulate"], "range": ["#ffffff","#ffffff","#b0b0b0","#000000","#9b1c1c"]}, "legend": null},
"shape": {"field": "key", "type": "nominal", "scale": {"domain": ["Dissolved","Clay","Silt","Sand","Particulate"], "range": ["circle","triangle-up","triangle-up","triangle-up","circle"]}, "legend": null}
}}
]
}
],
"config": {
"font": "Liberation Sans",
"view": {"stroke": "#555555", "strokeWidth": 1},
"axis": {"labelFont": "Liberation Sans", "titleFont": "Liberation Sans", "labelFontSize": 17, "titleFontSize": 17, "titleFontWeight": "normal", "labelColor": "black", "titleColor": "black", "domain": false, "grid": false, "ticks": true, "tickColor": "#333333", "tickSize": 5, "labelPadding": 6},
"legend": {"labelFont": "Liberation Sans", "labelColor": "black"},
"title": {"font": "Liberation Sans", "color": "black"}
}
}
